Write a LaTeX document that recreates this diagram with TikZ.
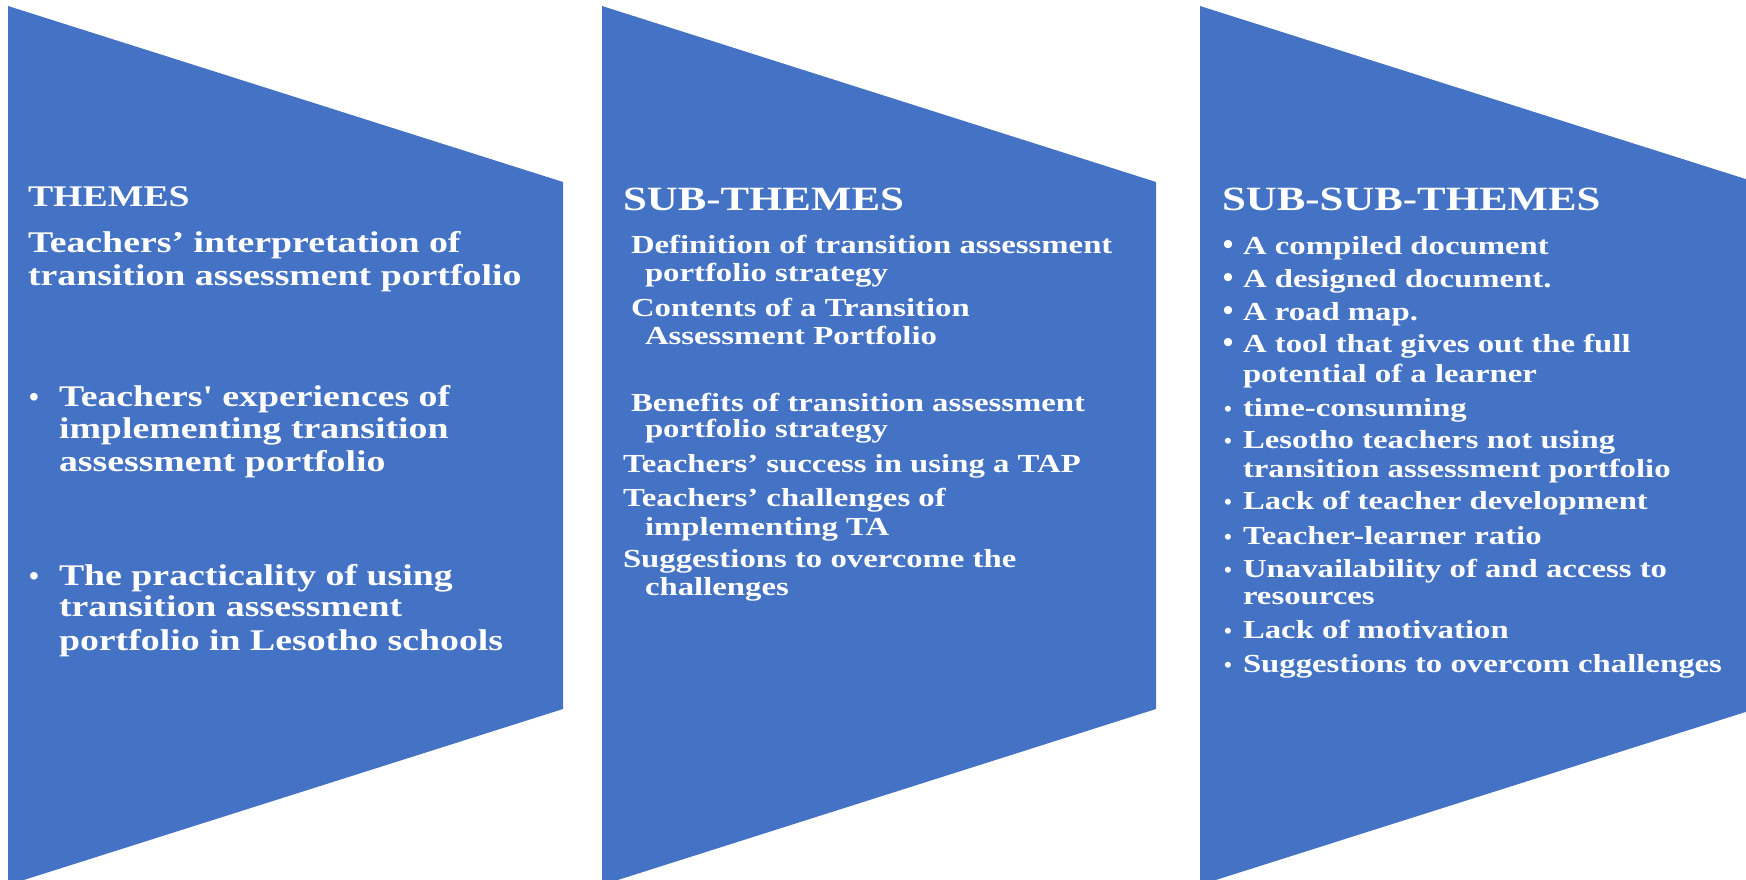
\documentclass[tikz,border=0pt]{standalone}
\usepackage{fontspec}
\setmainfont{Liberation Serif}[FakeStretch=1.26]
\newfontfamily\bulfont{Liberation Serif}
\definecolor{pblue}{HTML}{4472C4}
\tikzset{
  panel/.style={fill=pblue, draw=none},
  tx/.style={anchor=base west, inner sep=0pt, outer sep=0pt, text=white},
  tA/.style={tx, font=\fontsize{30}{33}\selectfont\bfseries},
  tB/.style={tx, font=\fontsize{26}{29}\selectfont\bfseries},
  hd/.style={tx, font=\fontsize{34}{38}\selectfont\bfseries},
  bulA/.style={anchor=base, inner sep=0pt, text=white, font=\fontsize{28}{30}\selectfont\bulfont\bfseries},
  bulB/.style={anchor=base, inner sep=0pt, text=white, font=\fontsize{30}{30}\selectfont\bulfont\bfseries},
  bulC/.style={anchor=base, inner sep=0pt, text=white, font=\fontsize{22}{24}\selectfont\bulfont\bfseries},
}
\newcommand{\sq}{{\addfontfeature{Ligatures=TeXOff}'}}
\begin{document}
\begin{tikzpicture}[x=1pt,y=-1pt]
\useasboundingbox (0,0) rectangle (1746,880);
\clip (0,0) rectangle (1746,880);
% panels
\path[panel] (8,6) -- (563,182) -- (563,709) -- (8,885) -- cycle;
\path[panel] (602,6) -- (1156,182) -- (1156,709) -- (602,885) -- cycle;
\path[panel] (1200,6) -- (1755,182) -- (1755,709) -- (1200,885) -- cycle;

% panel 1
\node[tA] (h1) at (28,207) {THEMES};
\node[tA] (p1a) at (28,252) {Teachers’ interpretation of};
\node[tA] (p1b) at (28,285) {transition assessment portfolio};
\node[bulA] (b1a) at (34,406) {•};
\node[tA] (p1c) at (59,406) {Teachers\sq{} experiences of};
\node[tA] (p1d) at (59,438) {implementing transition};
\node[tA] (p1e) at (59,471) {assessment portfolio};
\node[bulA] (b1b) at (34,585) {•};
\node[tA] (p1f) at (59,585) {The practicality of using};
\node[tA] (p1g) at (59,616) {transition assessment};
\node[tA] (p1h) at (59,650) {portfolio in Lesotho schools};

% panel 2
\node[hd] (h2) at (623,210) {SUB-THEMES};
\node[tB] (p2a) at (631,253) {Definition of transition assessment};
\node[tB] (p2b) at (645,281) {portfolio strategy};
\node[tB] (p2c) at (631,316) {Contents of a Transition};
\node[tB] (p2d) at (645,344) {Assessment Portfolio};
\node[tB] (p2e) at (631,411) {Benefits of transition assessment};
\node[tB] (p2f) at (645,437) {portfolio strategy};
\node[tB] (p2g) at (623,472) {Teachers’ success in using a TAP};
\node[tB] (p2h) at (623,506) {Teachers’ challenges of};
\node[tB] (p2i) at (645,535) {implementing TA};
\node[tB] (p2j) at (623,567) {Suggestions to overcome the};
\node[tB] (p2k) at (645,595) {challenges};

% panel 3
\node[hd] (h3) at (1222,210) {SUB-SUB-THEMES};
\node[bulB] (b3a) at (1228,254) {•};
\node[tB] (p3a) at (1243,254) {A compiled document};
\node[bulB] (b3b) at (1228,287) {•};
\node[tB] (p3b) at (1243,287) {A designed document.};
\node[bulB] (b3c) at (1228,320) {•};
\node[tB] (p3c) at (1243,320) {A road map.};
\node[bulB] (b3d) at (1228,352) {•};
\node[tB] (p3d) at (1243,352) {A tool that gives out the full};
\node[tB] (p3e) at (1243,382) {potential of a learner};
\node[bulC] (b3f) at (1228,416) {•};
\node[tB] (p3f) at (1243,416) {time-consuming};
\node[bulC] (b3g) at (1228,448) {•};
\node[tB] (p3g) at (1243,448) {Lesotho teachers not using};
\node[tB] (p3h) at (1243,477) {transition assessment portfolio};
\node[bulC] (b3i) at (1228,509) {•};
\node[tB] (p3i) at (1243,509) {Lack of teacher development};
\node[bulC] (b3j) at (1228,544) {•};
\node[tB] (p3j) at (1243,544) {Teacher-learner ratio};
\node[bulC] (b3k) at (1228,577) {•};
\node[tB] (p3k) at (1243,577) {Unavailability of and access to};
\node[tB] (p3l) at (1243,604) {resources};
\node[bulC] (b3m) at (1228,638) {•};
\node[tB] (p3m) at (1243,638) {Lack of motivation};
\node[bulC] (b3n) at (1228,672) {•};
\node[tB] (p3n) at (1243,672) {Suggestions to overcom challenges};
\end{tikzpicture}
\end{document}
